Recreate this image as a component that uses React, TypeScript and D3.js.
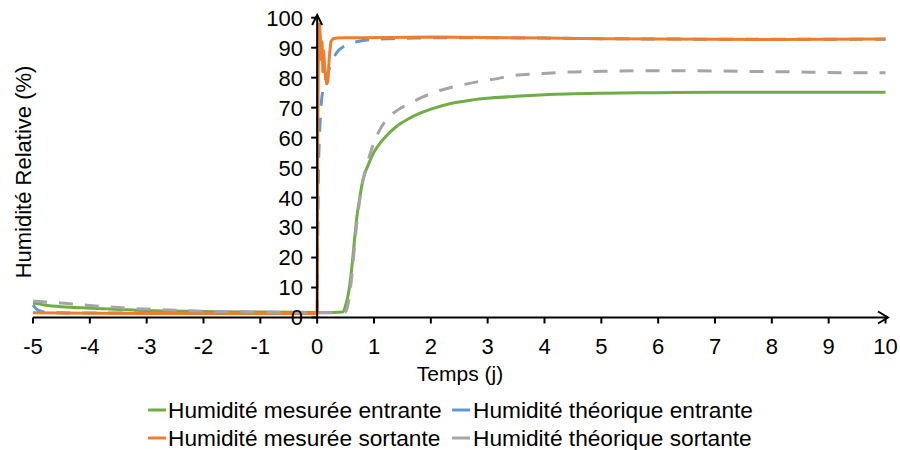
import React from "react";
import * as d3 from "d3";

// ---- Data ----
const xTicks = [-5, -4, -3, -2, -1, 0, 1, 2, 3, 4, 5, 6, 7, 8, 9, 10];
const yTicks = [0, 10, 20, 30, 40, 50, 60, 70, 80, 90, 100];

const greenT = [-5, -4.8, -4.5, -4, -3.5, -3, -2, -1, 0, 0.3, 0.45, 0.5, 0.55, 0.6, 0.65, 0.7, 0.75, 0.8, 0.9, 1, 1.1, 1.25, 1.4, 1.6, 1.8, 2, 2.35, 2.7, 3.05, 3.5, 4, 5, 6, 7, 8, 9, 10];
const greenV = [4.8, 4.2, 3.6, 3.1, 2.7, 2.3, 2.0, 1.8, 1.7, 1.7, 1.8, 4, 8, 15, 24.5, 33.8, 40, 45.5, 51, 55.2, 58, 61.2, 63.8, 66.2, 68.1, 69.5, 71.4, 72.5, 73.2, 73.8, 74.3, 74.8, 75, 75.1, 75.1, 75.1, 75.1];

const blueT = [-5, -4.95, -4.85, -4.7, -4, -3, -2, -1, 0, 0.01, 0.02, 0.04, 0.06, 0.1, 0.17, 0.25, 0.33, 0.5, 0.7, 1, 1.3, 1.7, 2.2, 3, 4, 5, 6, 7, 8, 9, 10];
const blueV = [4.2, 3, 2, 1.6, 1.5, 1.5, 1.5, 1.5, 1.5, 25, 45, 60, 68, 76, 80.5, 85, 88, 90.8, 92, 92.8, 93, 93.2, 93.3, 93.3, 93.2, 93, 92.9, 92.8, 92.8, 92.8, 92.8];

const orangeT = [-5, -4, -3, -2, -1, 0, 0.01, 0.025, 0.04, 0.055, 0.07, 0.085, 0.1, 0.115, 0.13, 0.15, 0.17, 0.19, 0.21, 0.24, 0.28, 0.35, 0.5, 0.8, 1.2, 1.6, 2, 2.5, 3, 4, 5, 6, 7, 8, 9, 10];
const orangeV = [1.6, 1.4, 1.3, 1.3, 1.3, 1.3, 60, 96, 98, 94, 86, 92, 82, 89, 84, 80, 78, 79, 86, 92, 93, 93.2, 93.3, 93.3, 93.4, 93.5, 93.6, 93.5, 93.4, 93.2, 93, 92.9, 92.8, 92.7, 92.8, 92.9];

const grayT = [-5, -4.9, -4.5, -4, -3.5, -3, -2.5, -2, -1, 0, 0.4, 0.5, 0.55, 0.6, 0.65, 0.7, 0.8, 0.9, 1, 1.1, 1.22, 1.4, 1.64, 1.85, 2.11, 2.35, 2.58, 2.87, 3.05, 3.45, 3.9, 4.33, 5, 5.8, 6.5, 7.56, 8.44, 9, 10];
const grayV = [5.5, 5.3, 4.8, 4, 3.3, 2.8, 2.4, 2.1, 1.8, 1.6, 1.6, 2, 5, 12, 22, 32, 45, 52.5, 58.5, 62.5, 66, 69, 71.5, 73.5, 75.4, 76.7, 77.7, 78.8, 79.3, 80.7, 81.3, 81.8, 82.1, 82.3, 82.3, 82.1, 81.9, 81.7, 81.6];

const legendLabels = [
  "Humidité mesurée entrante",
  "Humidité théorique entrante",
  "Humidité mesurée sortante",
  "Humidité théorique sortante",
];

const xTitle = "Temps (j)";
const yTitle = "Humidité Relative (%)";

// ---- Styling ----
const FONT = "'Liberation Sans', Arial, Helvetica, sans-serif";
const GREEN = "#70AD47";
const BLUE = "#5B9BD5";
const ORANGE = "#ED7D31";
const GRAY = "#A5A5A5";

export default function App() {
  const x = d3.scaleLinear().domain([-5, 10]).range([33, 885.5]);
  const y = d3.scaleLinear().domain([0, 100]).range([317.5, 17.7]);

  const mk = (ts: number[], vs: number[], curve: any) =>
    d3
      .line<number>()
      .x((_, i) => x(ts[i]))
      .y((v) => y(v))
      .curve(curve)(vs) as string;

  const greenPath = mk(greenT, greenV, d3.curveMonotoneX);
  const bluePath = mk(blueT, blueV, d3.curveMonotoneX);
  const orangePath = mk(orangeT, orangeV, d3.curveLinear);
  const grayPath = mk(grayT, grayV, d3.curveMonotoneX);

  const x0 = x(0);
  const y0 = y(0);
  const axisEndX = 888;
  const axisTopY = 15;

  const series = [
    { color: GREEN },
    { color: BLUE },
    { color: ORANGE },
    { color: GRAY },
  ];
  const legendPos = [
    { mx: 148, tx: 168, y: 410 },
    { mx: 452, tx: 473, y: 410 },
    { mx: 148, tx: 168, y: 438 },
    { mx: 452, tx: 473, y: 438 },
  ];

  return (
    <svg
      width={900}
      height={450}
      style={{ position: "absolute", left: 0, top: 0, background: "#fff" }}
      fontFamily={FONT}
    >
      <rect x={0} y={0} width={900} height={450} fill="#fff" />
      {/* series */}
      <path d={greenPath} fill="none" stroke={GREEN} strokeWidth={3} />
      <path d={bluePath} fill="none" stroke={BLUE} strokeWidth={3} strokeDasharray="14,12" />
      <path d={orangePath} fill="none" stroke={ORANGE} strokeWidth={3} strokeLinejoin="round" />
      <path d={grayPath} fill="none" stroke={GRAY} strokeWidth={3} strokeDasharray="14,12" />

      {/* x axis */}
      <line x1={x(-5)} x2={axisEndX} y1={y0} y2={y0} stroke="#000" strokeWidth={2} />
      <polyline
        points={`${axisEndX - 10},${y0 - 6} ${axisEndX},${y0} ${axisEndX - 10},${y0 + 6}`}
        fill="none"
        stroke="#000"
        strokeWidth={2}
      />
      {xTicks.map((t) => (
        <g key={"xt" + t}>
          <line x1={x(t)} x2={x(t)} y1={y0} y2={y0 + 6} stroke="#000" strokeWidth={2} />
          <text x={x(t)} y={354} textAnchor="middle" fontSize={22} fill="#000">
            {t}
          </text>
        </g>
      ))}

      {/* y axis */}
      <line x1={x0} x2={x0} y1={y0} y2={axisTopY} stroke="#000" strokeWidth={2} />
      <polyline
        points={`${x0 - 5},${axisTopY + 10} ${x0},${axisTopY} ${x0 + 5},${axisTopY + 10}`}
        fill="none"
        stroke="#000"
        strokeWidth={2}
      />
      {yTicks.map((v) => (
        <g key={"yt" + v}>
          <line x1={x0 - 6} x2={x0} y1={y(v)} y2={y(v)} stroke="#000" strokeWidth={2} />
          <text x={303} y={y(v)} dy="0.36em" textAnchor="end" fontSize={22} fill="#000">
            {v}
          </text>
        </g>
      ))}

      {/* titles */}
      <text x={460} y={381} textAnchor="middle" fontSize={21} fill="#000">
        {xTitle}
      </text>
      <text
        transform="translate(31,172) rotate(-90)"
        textAnchor="middle"
        fontSize={22}
        fill="#000"
      >
        {yTitle}
      </text>

      {/* legend */}
      {legendLabels.map((lab, i) => (
        <g key={"lg" + i}>
          <line
            x1={legendPos[i].mx}
            x2={legendPos[i].mx + 18}
            y1={legendPos[i].y}
            y2={legendPos[i].y}
            stroke={series[i].color}
            strokeWidth={3}
          />
          <text x={legendPos[i].tx} y={legendPos[i].y + 8} fontSize={22.7} fill="#000">
            {lab}
          </text>
        </g>
      ))}
    </svg>
  );
}
